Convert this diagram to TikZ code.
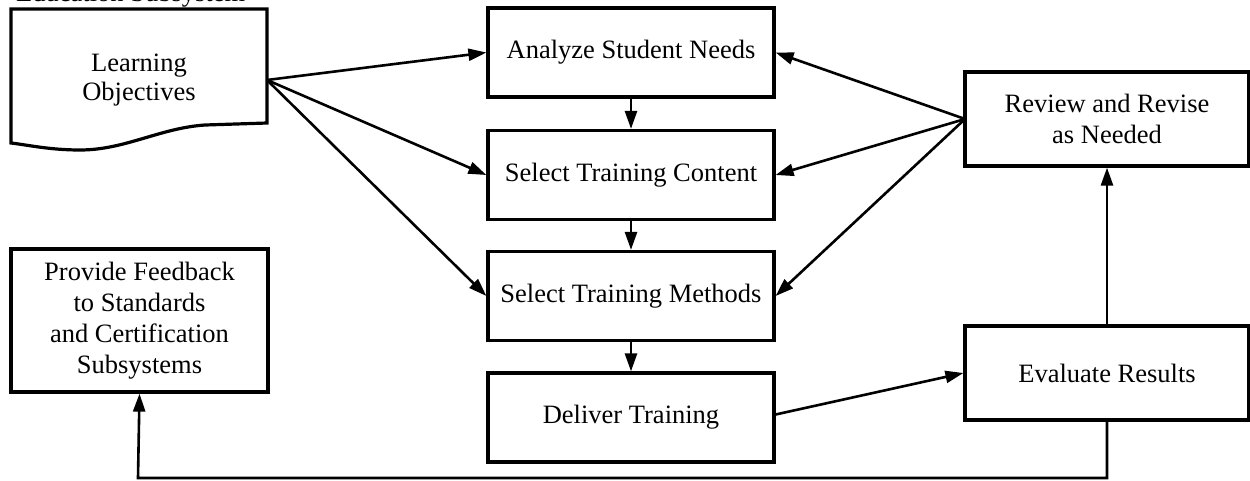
\documentclass[tikz,border=0pt]{standalone}
\usepackage{fontspec}
\setmainfont{Liberation Serif}
\usetikzlibrary{arrows.meta}
\tikzset{
  box/.style={draw, line width=3.2pt, align=center, inner sep=0pt,
    font=\fontsize{26.5}{31}\selectfont},
  arr/.style={line width=2.6pt, -{Triangle[length=18pt,width=12pt]}},
  lbl/.style={align=center, inner sep=0pt, font=\fontsize{26.5}{29}\selectfont}
}
\begin{document}
\begin{tikzpicture}[x=1pt,y=-1pt]
\useasboundingbox (0,0) rectangle (1250,480);
% cut-off title at the top (clipped in the reference as well)
\node[anchor=base west, inner sep=0pt, font=\fontsize{26.5}{31}\selectfont] (title) at (16,1) {Education Subsystem};
% Learning objectives (document shape)
\draw[line width=3.2pt, line join=miter] (11,9) -- (267,9) -- (267,123) -- (205,125)
  .. controls (160,128) and (125,150) .. (80,150)
  .. controls (50,150) and (28,145) .. (11,143) -- cycle;
\node[lbl] (lo) at (139,80) {Learning\\Objectives};
\coordinate (loout) at (267,80);
% main column
\node[box, minimum width=286pt, minimum height=89pt] (asn) at (631,52.5) {Analyze Student Needs};
\node[box, minimum width=286pt, minimum height=89pt] (stc) at (631,175) {Select Training Content};
\node[box, minimum width=286pt, minimum height=89pt] (stm) at (631,296) {Select Training Methods};
\node[box, minimum width=286pt, minimum height=89pt] (dt) at (631,417.5) {Deliver Training};
% right column
\node[box, minimum width=284pt, minimum height=94pt] (rr) at (1107,119) {Review and Revise\\as Needed};
\node[box, minimum width=284pt, minimum height=94pt] (er) at (1107,373) {Evaluate Results};
% feedback box
\node[box, minimum width=257pt, minimum height=143pt] (pf) at (139.5,320.5) {Provide Feedback\\to Standards\\and Certification\\Subsystems};
\coordinate (rrout) at (965,119);
\coordinate (fb) at (138,478);
% connectors
\draw[arr] (loout) -- (asn.west);
\draw[arr] (loout) -- (stc.west);
\draw[arr] (loout) -- (stm.west);
\draw[arr] (asn) -- (stc);
\draw[arr] (stc) -- (stm);
\draw[arr] (stm) -- (dt);
\draw[arr] (rrout) -- (asn.east);
\draw[arr] (rrout) -- (stc.east);
\draw[arr] (rrout) -- (stm.east);
\draw[arr] ([yshift=3pt]dt.east) -- (er.west);
\draw[arr] (er) -- (rr);
\draw[arr] (er.south) |- (fb) -- (pf.south);
\end{tikzpicture}
\end{document}
